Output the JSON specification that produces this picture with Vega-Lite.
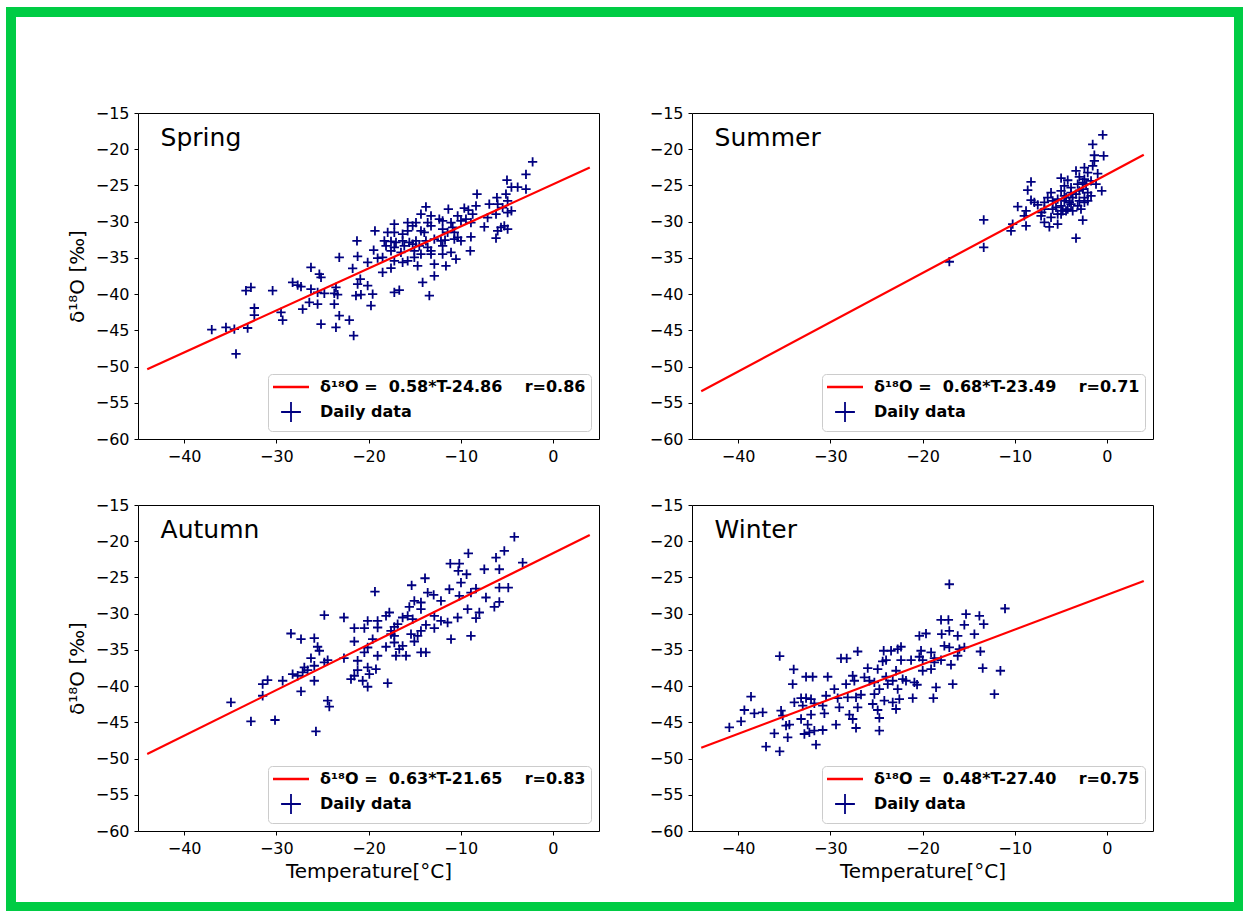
{
"$schema": "https://vega.github.io/schema/vega-lite/v6.json",
"padding": {"left": 5, "top": 6, "right": 0, "bottom": 0},
"background": "white",
"columns": 2,
"bounds": "flush",
"spacing": {"row": 66, "column": 93},
"resolve": {"scale": {"color": "independent"}, "legend": {"color": "independent"}},
"datasets": {
"fit": [
{"s":"Spring","T":-44,"d":-50.38},{"s":"Spring","T":4,"d":-22.54},
{"s":"Summer","T":-44,"d":-53.41},{"s":"Summer","T":4,"d":-20.77},
{"s":"Autumn","T":-44,"d":-49.37},{"s":"Autumn","T":4,"d":-19.13},
{"s":"Winter","T":-44,"d":-48.52},{"s":"Winter","T":4,"d":-25.48}
],
"pts": [
{"s":"Spring","T":-2.20,"d":-21.76},{"s":"Spring","T":-2.92,"d":-23.46},{"s":"Spring","T":-4.98,"d":-24.26},{"s":"Spring","T":-4.5,"d":-25.24},{"s":"Spring","T":-3.82,"d":-25.24},{"s":"Spring","T":-2.92,"d":-25.52},{"s":"Spring","T":-8.23,"d":-26.21},{"s":"Spring","T":-6.07,"d":-26.67},{"s":"Spring","T":-5.09,"d":-26.21},{"s":"Spring","T":-4.91,"d":-27.13},{"s":"Spring","T":-4.5,"d":-28.51},{"s":"Spring","T":-4.91,"d":-28.74},{"s":"Spring","T":-6.90,"d":-27.59},{"s":"Spring","T":-5.99,"d":-27.59},{"s":"Spring","T":-5.45,"d":-28.05},{"s":"Spring","T":-13.77,"d":-27.96},{"s":"Spring","T":-11.34,"d":-28.28},{"s":"Spring","T":-9.61,"d":-28.14},{"s":"Spring","T":-9.17,"d":-28.42},{"s":"Spring","T":-8.34,"d":-27.82},{"s":"Spring","T":-8.70,"d":-28.97},{"s":"Spring","T":-14.31,"d":-28.97},{"s":"Spring","T":-13.22,"d":-29.20},{"s":"Spring","T":-12.32,"d":-29.66},{"s":"Spring","T":-11.96,"d":-29.89},{"s":"Spring","T":-10.33,"d":-29.20},{"s":"Spring","T":-9.43,"d":-29.66},{"s":"Spring","T":-9.97,"d":-29.89},{"s":"Spring","T":-17.20,"d":-30.35},{"s":"Spring","T":-15.75,"d":-30.12},{"s":"Spring","T":-14.85,"d":-30.12},{"s":"Spring","T":-15.21,"d":-30.58},{"s":"Spring","T":-13.58,"d":-30.12},{"s":"Spring","T":-13.22,"d":-30.58},{"s":"Spring","T":-11.05,"d":-30.12},{"s":"Spring","T":-10.87,"d":-30.80},{"s":"Spring","T":-8.89,"d":-30.12},{"s":"Spring","T":-7.44,"d":-30.71},{"s":"Spring","T":-7.08,"d":-29.43},{"s":"Spring","T":-6.17,"d":-28.97},{"s":"Spring","T":-5.63,"d":-30.80},{"s":"Spring","T":-4.91,"d":-31.03},{"s":"Spring","T":-5.27,"d":-30.58},{"s":"Spring","T":-19.30,"d":-31.26},{"s":"Spring","T":-17.92,"d":-31.49},{"s":"Spring","T":-17.20,"d":-31.49},{"s":"Spring","T":-16.30,"d":-31.72},{"s":"Spring","T":-15.75,"d":-31.26},{"s":"Spring","T":-14.31,"d":-31.26},{"s":"Spring","T":-13.95,"d":-31.49},{"s":"Spring","T":-11.96,"d":-31.03},{"s":"Spring","T":-11.42,"d":-31.49},{"s":"Spring","T":-10.69,"d":-31.49},{"s":"Spring","T":-10.33,"d":-32.18},{"s":"Spring","T":-9.97,"d":-32.64},{"s":"Spring","T":-8.89,"d":-32.09},{"s":"Spring","T":-6.17,"d":-32.27},{"s":"Spring","T":-5.99,"d":-31.26},{"s":"Spring","T":-21.25,"d":-32.64},{"s":"Spring","T":-18.28,"d":-32.64},{"s":"Spring","T":-17.56,"d":-32.73},{"s":"Spring","T":-17.02,"d":-32.87},{"s":"Spring","T":-16.30,"d":-32.64},{"s":"Spring","T":-15.57,"d":-32.87},{"s":"Spring","T":-14.85,"d":-32.64},{"s":"Spring","T":-13.77,"d":-32.64},{"s":"Spring","T":-12.86,"d":-32.41},{"s":"Spring","T":-12.14,"d":-32.64},{"s":"Spring","T":-11.70,"d":-32.55},{"s":"Spring","T":-10.69,"d":-32.41},{"s":"Spring","T":-18.10,"d":-33.33},{"s":"Spring","T":-17.20,"d":-33.56},{"s":"Spring","T":-16.12,"d":-33.33},{"s":"Spring","T":-15.21,"d":-33.10},{"s":"Spring","T":-14.49,"d":-33.33},{"s":"Spring","T":-13.58,"d":-33.56},{"s":"Spring","T":-13.22,"d":-34.02},{"s":"Spring","T":-11.96,"d":-33.33},{"s":"Spring","T":-19.44,"d":-33.93},{"s":"Spring","T":-17.56,"d":-34.02},{"s":"Spring","T":-16.48,"d":-34.25},{"s":"Spring","T":-15.03,"d":-34.02},{"s":"Spring","T":-14.31,"d":-34.48},{"s":"Spring","T":-13.22,"d":-34.48},{"s":"Spring","T":-11.96,"d":-34.48},{"s":"Spring","T":-11.05,"d":-34.25},{"s":"Spring","T":-10.51,"d":-35.17},{"s":"Spring","T":-8.96,"d":-34.02},{"s":"Spring","T":-23.17,"d":-34.94},{"s":"Spring","T":-21.18,"d":-34.80},{"s":"Spring","T":-20.09,"d":-35.63},{"s":"Spring","T":-19.01,"d":-35.03},{"s":"Spring","T":-18.47,"d":-34.94},{"s":"Spring","T":-17.20,"d":-35.40},{"s":"Spring","T":-16.30,"d":-35.63},{"s":"Spring","T":-15.75,"d":-35.40},{"s":"Spring","T":-14.67,"d":-36.09},{"s":"Spring","T":-12.86,"d":-35.86},{"s":"Spring","T":-11.60,"d":-36.09},{"s":"Spring","T":-26.24,"d":-36.32},{"s":"Spring","T":-21.72,"d":-36.45},{"s":"Spring","T":-18.47,"d":-37.01},{"s":"Spring","T":-17.56,"d":-36.41},{"s":"Spring","T":-12.86,"d":-37.47},{"s":"Spring","T":-15.03,"d":-34.94},{"s":"Spring","T":-25.33,"d":-37.24},{"s":"Spring","T":-25.15,"d":-37.70},{"s":"Spring","T":-20.89,"d":-37.93},{"s":"Spring","T":-21.18,"d":-38.61},{"s":"Spring","T":-20.09,"d":-38.84},{"s":"Spring","T":-14.13,"d":-38.38},{"s":"Spring","T":-28.23,"d":-38.38},{"s":"Spring","T":-27.68,"d":-38.75},{"s":"Spring","T":-27.32,"d":-38.98},{"s":"Spring","T":-33.29,"d":-39.53},{"s":"Spring","T":-32.75,"d":-39.07},{"s":"Spring","T":-30.40,"d":-39.53},{"s":"Spring","T":-26.24,"d":-39.30},{"s":"Spring","T":-25.52,"d":-39.76},{"s":"Spring","T":-24.79,"d":-39.90},{"s":"Spring","T":-23.71,"d":-39.90},{"s":"Spring","T":-23.35,"d":-40.08},{"s":"Spring","T":-23.53,"d":-39.07},{"s":"Spring","T":-21.36,"d":-40.22},{"s":"Spring","T":-20.82,"d":-40.08},{"s":"Spring","T":-19.55,"d":-39.99},{"s":"Spring","T":-17.20,"d":-39.76},{"s":"Spring","T":-16.66,"d":-39.44},{"s":"Spring","T":-13.40,"d":-40.22},{"s":"Spring","T":-26.42,"d":-41.14},{"s":"Spring","T":-25.52,"d":-41.37},{"s":"Spring","T":-27.14,"d":-42.06},{"s":"Spring","T":-23.71,"d":-41.37},{"s":"Spring","T":-19.73,"d":-41.60},{"s":"Spring","T":-32.38,"d":-41.92},{"s":"Spring","T":-32.38,"d":-42.89},{"s":"Spring","T":-29.49,"d":-42.52},{"s":"Spring","T":-29.31,"d":-43.58},{"s":"Spring","T":-23.17,"d":-42.98},{"s":"Spring","T":-22.08,"d":-43.58},{"s":"Spring","T":-35.46,"d":-44.59},{"s":"Spring","T":-34.55,"d":-44.82},{"s":"Spring","T":-33.11,"d":-44.68},{"s":"Spring","T":-25.15,"d":-44.13},{"s":"Spring","T":-23.53,"d":-44.59},{"s":"Spring","T":-21.61,"d":-45.73},{"s":"Spring","T":-34.37,"d":-48.26},{"s":"Spring","T":-37.0,"d":-44.9},
{"s":"Summer","T":-0.45,"d":-18.03},{"s":"Summer","T":-1.54,"d":-19.32},{"s":"Summer","T":-0.35,"d":-20.92},{"s":"Summer","T":-1.36,"d":-20.83},{"s":"Summer","T":-1.36,"d":-21.61},{"s":"Summer","T":-1.54,"d":-22.30},{"s":"Summer","T":-2.44,"d":-22.53},{"s":"Summer","T":-3.35,"d":-22.99},{"s":"Summer","T":-2.08,"d":-23.22},{"s":"Summer","T":-1.00,"d":-23.36},{"s":"Summer","T":-4.97,"d":-24.00},{"s":"Summer","T":-4.25,"d":-24.28},{"s":"Summer","T":-2.99,"d":-23.82},{"s":"Summer","T":-2.44,"d":-24.14},{"s":"Summer","T":-1.72,"d":-24.37},{"s":"Summer","T":-8.23,"d":-24.51},{"s":"Summer","T":-8.59,"d":-25.65},{"s":"Summer","T":-6.06,"d":-25.98},{"s":"Summer","T":-4.61,"d":-25.06},{"s":"Summer","T":-3.89,"d":-25.29},{"s":"Summer","T":-3.17,"d":-24.83},{"s":"Summer","T":-2.62,"d":-25.52},{"s":"Summer","T":-2.08,"d":-25.98},{"s":"Summer","T":-0.56,"d":-25.75},{"s":"Summer","T":-8.23,"d":-27.03},{"s":"Summer","T":-7.87,"d":-27.35},{"s":"Summer","T":-9.67,"d":-27.91},{"s":"Summer","T":-6.42,"d":-26.67},{"s":"Summer","T":-5.88,"d":-27.12},{"s":"Summer","T":-5.34,"d":-26.89},{"s":"Summer","T":-4.61,"d":-26.44},{"s":"Summer","T":-3.71,"d":-26.67},{"s":"Summer","T":-2.99,"d":-27.12},{"s":"Summer","T":-2.44,"d":-26.67},{"s":"Summer","T":-1.72,"d":-26.44},{"s":"Summer","T":-8.77,"d":-28.50},{"s":"Summer","T":-6.78,"d":-28.27},{"s":"Summer","T":-5.88,"d":-28.27},{"s":"Summer","T":-4.97,"d":-27.81},{"s":"Summer","T":-4.43,"d":-28.50},{"s":"Summer","T":-3.89,"d":-27.58},{"s":"Summer","T":-3.17,"d":-27.81},{"s":"Summer","T":-2.44,"d":-27.35},{"s":"Summer","T":-2.08,"d":-27.12},{"s":"Summer","T":-10.22,"d":-30.34},{"s":"Summer","T":-10.40,"d":-31.26},{"s":"Summer","T":-8.77,"d":-30.57},{"s":"Summer","T":-7.14,"d":-29.19},{"s":"Summer","T":-6.78,"d":-30.11},{"s":"Summer","T":-6.06,"d":-29.42},{"s":"Summer","T":-5.34,"d":-28.96},{"s":"Summer","T":-4.79,"d":-28.50},{"s":"Summer","T":-4.25,"d":-28.27},{"s":"Summer","T":-6.24,"d":-30.71},{"s":"Summer","T":-5.34,"d":-30.34},{"s":"Summer","T":-2.62,"d":-29.79},{"s":"Summer","T":-3.35,"d":-32.27},{"s":"Summer","T":-13.36,"d":-29.74},{"s":"Summer","T":-13.36,"d":-33.56},{"s":"Summer","T":-17.09,"d":-35.53},{"s":"Summer","T":-7.50,"d":-27.68},{"s":"Summer","T":-7.07,"d":-28.73},{"s":"Summer","T":-5.52,"d":-28.04},{"s":"Summer","T":-4.97,"d":-28.96},{"s":"Summer","T":-3.35,"d":-26.21},{"s":"Summer","T":-4.61,"d":-27.12},{"s":"Summer","T":-4.07,"d":-27.35},{"s":"Summer","T":-2.81,"d":-28.27},{"s":"Summer","T":-3.71,"d":-28.50},{"s":"Summer","T":-2.62,"d":-24.60},{"s":"Summer","T":-2.26,"d":-24.83},{"s":"Summer","T":-1.18,"d":-24.83},{"s":"Summer","T":-3.89,"d":-25.98},{"s":"Summer","T":-2.99,"d":-25.75},{"s":"Summer","T":-4.97,"d":-25.75},{"s":"Summer","T":-4.43,"d":-26.67},{"s":"Summer","T":-6.78,"d":-27.35},{"s":"Summer","T":-8.96,"d":-29.19},
{"s":"Autumn","T":-4.18,"d":-19.41},{"s":"Autumn","T":-5.27,"d":-21.34},{"s":"Autumn","T":-6.17,"d":-22.26},{"s":"Autumn","T":-9.17,"d":-21.67},{"s":"Autumn","T":-3.28,"d":-22.95},{"s":"Autumn","T":-11.13,"d":-23.09},{"s":"Autumn","T":-10.15,"d":-23.09},{"s":"Autumn","T":-7.44,"d":-23.87},{"s":"Autumn","T":-5.81,"d":-23.87},{"s":"Autumn","T":-10.26,"d":-24.10},{"s":"Autumn","T":-9.36,"d":-24.56},{"s":"Autumn","T":-13.87,"d":-25.11},{"s":"Autumn","T":-15.32,"d":-26.08},{"s":"Autumn","T":-9.97,"d":-25.71},{"s":"Autumn","T":-19.30,"d":-26.95},{"s":"Autumn","T":-11.23,"d":-26.63},{"s":"Autumn","T":-8.34,"d":-26.53},{"s":"Autumn","T":-5.81,"d":-26.40},{"s":"Autumn","T":-4.84,"d":-26.40},{"s":"Autumn","T":-13.58,"d":-27.09},{"s":"Autumn","T":-12.93,"d":-27.41},{"s":"Autumn","T":-10.15,"d":-27.55},{"s":"Autumn","T":-8.89,"d":-27.09},{"s":"Autumn","T":-7.26,"d":-27.77},{"s":"Autumn","T":-5.81,"d":-28.37},{"s":"Autumn","T":-6.35,"d":-29.06},{"s":"Autumn","T":-15.03,"d":-28.23},{"s":"Autumn","T":-14.31,"d":-28.46},{"s":"Autumn","T":-12.14,"d":-28.23},{"s":"Autumn","T":-15.57,"d":-29.06},{"s":"Autumn","T":-14.31,"d":-29.38},{"s":"Autumn","T":-9.25,"d":-29.38},{"s":"Autumn","T":-7.98,"d":-29.84},{"s":"Autumn","T":-10.33,"d":-30.53},{"s":"Autumn","T":-8.34,"d":-30.62},{"s":"Autumn","T":-24.79,"d":-30.21},{"s":"Autumn","T":-22.66,"d":-30.53},{"s":"Autumn","T":-18.10,"d":-30.30},{"s":"Autumn","T":-17.74,"d":-29.84},{"s":"Autumn","T":-16.30,"d":-30.53},{"s":"Autumn","T":-15.75,"d":-30.30},{"s":"Autumn","T":-15.21,"d":-30.76},{"s":"Autumn","T":-12.86,"d":-30.30},{"s":"Autumn","T":-12.14,"d":-30.99},{"s":"Autumn","T":-11.42,"d":-31.22},{"s":"Autumn","T":-20.09,"d":-30.99},{"s":"Autumn","T":-19.01,"d":-30.99},{"s":"Autumn","T":-21.54,"d":-32.00},{"s":"Autumn","T":-20.45,"d":-32.00},{"s":"Autumn","T":-19.01,"d":-31.91},{"s":"Autumn","T":-17.20,"d":-31.82},{"s":"Autumn","T":-16.84,"d":-31.45},{"s":"Autumn","T":-13.77,"d":-31.54},{"s":"Autumn","T":-12.86,"d":-32.00},{"s":"Autumn","T":-14.31,"d":-32.37},{"s":"Autumn","T":-28.41,"d":-32.74},{"s":"Autumn","T":-27.32,"d":-33.52},{"s":"Autumn","T":-25.88,"d":-33.38},{"s":"Autumn","T":-21.54,"d":-33.84},{"s":"Autumn","T":-19.55,"d":-33.52},{"s":"Autumn","T":-17.56,"d":-32.83},{"s":"Autumn","T":-15.39,"d":-32.83},{"s":"Autumn","T":-14.67,"d":-33.06},{"s":"Autumn","T":-11.05,"d":-33.52},{"s":"Autumn","T":-8.89,"d":-33.06},{"s":"Autumn","T":-25.52,"d":-34.57},{"s":"Autumn","T":-25.33,"d":-35.12},{"s":"Autumn","T":-20.09,"d":-34.67},{"s":"Autumn","T":-18.10,"d":-34.57},{"s":"Autumn","T":-17.20,"d":-33.98},{"s":"Autumn","T":-16.30,"d":-34.44},{"s":"Autumn","T":-15.03,"d":-33.84},{"s":"Autumn","T":-16.66,"d":-34.90},{"s":"Autumn","T":-26.24,"d":-36.14},{"s":"Autumn","T":-24.43,"d":-36.41},{"s":"Autumn","T":-22.66,"d":-36.14},{"s":"Autumn","T":-21.18,"d":-36.50},{"s":"Autumn","T":-20.45,"d":-35.35},{"s":"Autumn","T":-19.01,"d":-35.81},{"s":"Autumn","T":-17.02,"d":-35.81},{"s":"Autumn","T":-15.93,"d":-35.81},{"s":"Autumn","T":-14.31,"d":-35.35},{"s":"Autumn","T":-13.77,"d":-35.35},{"s":"Autumn","T":-26.96,"d":-37.42},{"s":"Autumn","T":-26.60,"d":-37.79},{"s":"Autumn","T":-25.88,"d":-37.19},{"s":"Autumn","T":-24.79,"d":-36.73},{"s":"Autumn","T":-21.18,"d":-37.79},{"s":"Autumn","T":-20.09,"d":-37.42},{"s":"Autumn","T":-19.19,"d":-37.65},{"s":"Autumn","T":-28.23,"d":-38.34},{"s":"Autumn","T":-27.68,"d":-38.57},{"s":"Autumn","T":-27.14,"d":-38.11},{"s":"Autumn","T":-31.48,"d":-39.72},{"s":"Autumn","T":-30.94,"d":-39.17},{"s":"Autumn","T":-29.31,"d":-39.26},{"s":"Autumn","T":-25.88,"d":-39.26},{"s":"Autumn","T":-21.90,"d":-39.03},{"s":"Autumn","T":-21.54,"d":-38.57},{"s":"Autumn","T":-20.63,"d":-39.26},{"s":"Autumn","T":-20.09,"d":-40.09},{"s":"Autumn","T":-19.91,"d":-38.34},{"s":"Autumn","T":-17.92,"d":-39.58},{"s":"Autumn","T":-31.48,"d":-41.33},{"s":"Autumn","T":-27.32,"d":-40.73},{"s":"Autumn","T":-34.92,"d":-42.24},{"s":"Autumn","T":-24.43,"d":-42.01},{"s":"Autumn","T":-24.25,"d":-42.84},{"s":"Autumn","T":-32.75,"d":-44.86},{"s":"Autumn","T":-30.14,"d":-44.68},{"s":"Autumn","T":-25.70,"d":-46.24},{"s":"Autumn","T":-17.56,"d":-32.37},{"s":"Autumn","T":-17.20,"d":-33.06},
{"s":"Winter","T":-17.09,"d":-25.94},{"s":"Winter","T":-11.05,"d":-29.29},{"s":"Winter","T":-15.28,"d":-30.07},{"s":"Winter","T":-13.83,"d":-30.30},{"s":"Winter","T":-17.99,"d":-30.85},{"s":"Winter","T":-17.19,"d":-30.85},{"s":"Winter","T":-15.46,"d":-31.54},{"s":"Winter","T":-13.36,"d":-31.45},{"s":"Winter","T":-20.34,"d":-33.06},{"s":"Winter","T":-19.62,"d":-32.74},{"s":"Winter","T":-17.92,"d":-32.83},{"s":"Winter","T":-17.09,"d":-32.37},{"s":"Winter","T":-16.18,"d":-33.06},{"s":"Winter","T":-14.37,"d":-32.83},{"s":"Winter","T":-22.33,"d":-34.57},{"s":"Winter","T":-22.69,"d":-34.89},{"s":"Winter","T":-20.16,"d":-35.12},{"s":"Winter","T":-19.07,"d":-35.35},{"s":"Winter","T":-17.63,"d":-34.44},{"s":"Winter","T":-17.09,"d":-34.66},{"s":"Winter","T":-16.00,"d":-34.89},{"s":"Winter","T":-15.46,"d":-34.66},{"s":"Winter","T":-13.72,"d":-35.22},{"s":"Winter","T":-35.49,"d":-35.86},{"s":"Winter","T":-28.84,"d":-36.18},{"s":"Winter","T":-28.22,"d":-36.18},{"s":"Winter","T":-27.03,"d":-35.22},{"s":"Winter","T":-24.21,"d":-35.12},{"s":"Winter","T":-23.41,"d":-35.12},{"s":"Winter","T":-23.95,"d":-36.41},{"s":"Winter","T":-24.32,"d":-36.59},{"s":"Winter","T":-22.33,"d":-36.41},{"s":"Winter","T":-21.24,"d":-36.41},{"s":"Winter","T":-20.34,"d":-35.95},{"s":"Winter","T":-19.98,"d":-36.41},{"s":"Winter","T":-18.71,"d":-36.13},{"s":"Winter","T":-17.99,"d":-36.41},{"s":"Winter","T":-16.18,"d":-35.81},{"s":"Winter","T":-16.91,"d":-37.05},{"s":"Winter","T":-13.47,"d":-37.51},{"s":"Winter","T":-11.55,"d":-37.88},{"s":"Winter","T":-33.97,"d":-37.70},{"s":"Winter","T":-32.63,"d":-38.71},{"s":"Winter","T":-31.91,"d":-38.71},{"s":"Winter","T":-30.28,"d":-38.71},{"s":"Winter","T":-27.57,"d":-38.57},{"s":"Winter","T":-25.94,"d":-37.51},{"s":"Winter","T":-24.86,"d":-37.65},{"s":"Winter","T":-23.95,"d":-38.71},{"s":"Winter","T":-22.87,"d":-37.88},{"s":"Winter","T":-22.15,"d":-39.03},{"s":"Winter","T":-20.88,"d":-39.49},{"s":"Winter","T":-20.59,"d":-39.81},{"s":"Winter","T":-19.98,"d":-37.88},{"s":"Winter","T":-19.07,"d":-37.65},{"s":"Winter","T":-18.71,"d":-36.73},{"s":"Winter","T":-34.08,"d":-39.72},{"s":"Winter","T":-29.56,"d":-40.41},{"s":"Winter","T":-28.29,"d":-39.72},{"s":"Winter","T":-27.39,"d":-39.26},{"s":"Winter","T":-26.30,"d":-38.80},{"s":"Winter","T":-25.76,"d":-39.26},{"s":"Winter","T":-25.22,"d":-39.49},{"s":"Winter","T":-24.68,"d":-40.41},{"s":"Winter","T":-23.77,"d":-39.72},{"s":"Winter","T":-23.23,"d":-39.26},{"s":"Winter","T":-22.69,"d":-40.41},{"s":"Winter","T":-21.79,"d":-39.26},{"s":"Winter","T":-16.72,"d":-39.72},{"s":"Winter","T":-18.53,"d":-40.18},{"s":"Winter","T":-38.60,"d":-41.46},{"s":"Winter","T":-33.17,"d":-41.65},{"s":"Winter","T":-32.63,"d":-41.65},{"s":"Winter","T":-32.09,"d":-41.79},{"s":"Winter","T":-30.46,"d":-41.33},{"s":"Winter","T":-29.20,"d":-41.65},{"s":"Winter","T":-28.11,"d":-41.56},{"s":"Winter","T":-27.21,"d":-41.56},{"s":"Winter","T":-26.67,"d":-41.19},{"s":"Winter","T":-25.22,"d":-41.10},{"s":"Winter","T":-24.14,"d":-42.01},{"s":"Winter","T":-23.23,"d":-42.24},{"s":"Winter","T":-22.51,"d":-41.79},{"s":"Winter","T":-21.06,"d":-41.65},{"s":"Winter","T":-18.82,"d":-41.65},{"s":"Winter","T":-12.20,"d":-41.10},{"s":"Winter","T":-39.32,"d":-43.30},{"s":"Winter","T":-38.24,"d":-43.76},{"s":"Winter","T":-37.33,"d":-43.62},{"s":"Winter","T":-35.34,"d":-43.39},{"s":"Winter","T":-33.90,"d":-42.24},{"s":"Winter","T":-32.99,"d":-42.70},{"s":"Winter","T":-31.73,"d":-42.38},{"s":"Winter","T":-30.82,"d":-42.70},{"s":"Winter","T":-30.64,"d":-43.76},{"s":"Winter","T":-29.02,"d":-42.93},{"s":"Winter","T":-27.93,"d":-43.94},{"s":"Winter","T":-27.03,"d":-42.93},{"s":"Winter","T":-25.40,"d":-42.47},{"s":"Winter","T":-24.86,"d":-43.30},{"s":"Winter","T":-22.87,"d":-43.16},{"s":"Winter","T":-39.68,"d":-44.86},{"s":"Winter","T":-40.95,"d":-45.69},{"s":"Winter","T":-35.16,"d":-44.08},{"s":"Winter","T":-34.80,"d":-45.46},{"s":"Winter","T":-34.44,"d":-45.32},{"s":"Winter","T":-33.17,"d":-44.54},{"s":"Winter","T":-32.09,"d":-43.94},{"s":"Winter","T":-32.45,"d":-45.32},{"s":"Winter","T":-31.73,"d":-46.15},{"s":"Winter","T":-30.82,"d":-46.06},{"s":"Winter","T":-29.38,"d":-45.32},{"s":"Winter","T":-27.21,"d":-45.78},{"s":"Winter","T":-24.68,"d":-44.40},{"s":"Winter","T":-24.68,"d":-46.15},{"s":"Winter","T":-27.57,"d":-44.54},{"s":"Winter","T":-36.07,"d":-46.52},{"s":"Winter","T":-34.62,"d":-47.07},{"s":"Winter","T":-31.55,"d":-48.08},{"s":"Winter","T":-36.97,"d":-48.35},{"s":"Winter","T":-35.49,"d":-49.00},{"s":"Winter","T":-32.81,"d":-46.61},{"s":"Winter","T":-32.27,"d":-46.38}
]
},
"concat": [
{
"width": 461, "height": 326,
"layer": [
{"data": {"values": [{}]},
 "mark": {"type": "rect", "filled": false, "color": "#00cc44", "strokeWidth": 10, "clip": false},
 "encoding": {
  "x": {"datum": -58.774, "type": "quantitative", "scale": {"domain": [-45, 5], "nice": false, "zero": false}, "axis": {"values": [-40, -30, -20, -10, 0], "title": null}},
  "x2": {"datum": 74.414},
  "y": {"datum": -1.058, "type": "quantitative", "scale": {"domain": [-60, -15], "nice": false, "zero": false}, "axis": {"values": [-60, -55, -50, -45, -40, -35, -30, -25, -20, -15], "title": "δ¹⁸O [‰]"}},
  "y2": {"datum": -124.6}
 }},
{"data": {"values": [{}]},
 "mark": {"type": "text", "align": "left", "baseline": "alphabetic", "fontSize": 25, "font": "DejaVu Sans", "color": "black"},
 "encoding": {
  "x": {"datum": -42.55, "type": "quantitative", "scale": {"domain": [-45, 5], "nice": false, "zero": false}, "axis": {"values": [-40, -30, -20, -10, 0], "title": null}},
  "y": {"datum": -19.49, "type": "quantitative", "scale": {"domain": [-60, -15], "nice": false, "zero": false}, "axis": {"values": [-60, -55, -50, -45, -40, -35, -30, -25, -20, -15], "title": "δ¹⁸O [‰]"}},
  "text": {"value": "Spring"}
 }},
{"data": {"name": "pts"}, "transform": [{"filter": "datum.s === 'Spring'"}],
 "mark": {"type": "point", "shape": "M-1,0H1M0,-1V1", "size": 86, "filled": false, "strokeWidth": 1.8, "opacity": 1},
 "encoding": {
  "x": {"field": "T", "type": "quantitative", "scale": {"domain": [-45, 5], "nice": false, "zero": false}, "axis": {"values": [-40, -30, -20, -10, 0], "title": null}},
  "y": {"field": "d", "type": "quantitative", "scale": {"domain": [-60, -15], "nice": false, "zero": false}, "axis": {"values": [-60, -55, -50, -45, -40, -35, -30, -25, -20, -15], "title": "δ¹⁸O [‰]"}},
  "color": {"datum": "Daily data", "type": "nominal"}
 }},
{"data": {"name": "fit"}, "transform": [{"filter": "datum.s === 'Spring'"}],
 "mark": {"type": "line", "strokeWidth": 2.2},
 "encoding": {
  "x": {"field": "T", "type": "quantitative", "scale": {"domain": [-45, 5], "nice": false, "zero": false}, "axis": {"values": [-40, -30, -20, -10, 0], "title": null}},
  "y": {"field": "d", "type": "quantitative", "scale": {"domain": [-60, -15], "nice": false, "zero": false}, "axis": {"values": [-60, -55, -50, -45, -40, -35, -30, -25, -20, -15], "title": "δ¹⁸O [‰]"}},
  "color": {"datum": "δ¹⁸O\u00a0=\u00a0\u00a00.58*T-24.86\u00a0\u00a0\u00a0\u00a0r=0.86", "type": "nominal",
   "scale": {"domain": ["δ¹⁸O\u00a0=\u00a0\u00a00.58*T-24.86\u00a0\u00a0\u00a0\u00a0r=0.86", "Daily data"], "range": ["#ff0000", "#000080"]},
   "legend": {"encode": {"symbols": {"update": {"shape": {"signal": "datum.value === 'Daily data' ? 'M-1.1,0H1.1M0,-1.1V1.1' : 'M-2,0H2'"}, "stroke": {"signal": "datum.value === 'Daily data' ? '#000080' : '#ff0000'"}, "strokeWidth": {"signal": "datum.value === 'Daily data' ? 1.8 : 2.5"}, "fill": {"value": "transparent"}, "opacity": {"value": 1}, "size": {"value": 324}}}}}}
 }}
]
},
{
"width": 461, "height": 326,
"layer": [
{"data": {"values": [{}]},
 "mark": {"type": "text", "align": "left", "baseline": "alphabetic", "fontSize": 25, "font": "DejaVu Sans", "color": "black"},
 "encoding": {
  "x": {"datum": -42.55, "type": "quantitative", "scale": {"domain": [-45, 5], "nice": false, "zero": false}, "axis": {"values": [-40, -30, -20, -10, 0], "title": null}},
  "y": {"datum": -19.49, "type": "quantitative", "scale": {"domain": [-60, -15], "nice": false, "zero": false}, "axis": {"values": [-60, -55, -50, -45, -40, -35, -30, -25, -20, -15], "title": null}},
  "text": {"value": "Summer"}
 }},
{"data": {"name": "pts"}, "transform": [{"filter": "datum.s === 'Summer'"}],
 "mark": {"type": "point", "shape": "M-1,0H1M0,-1V1", "size": 86, "filled": false, "strokeWidth": 1.8, "opacity": 1},
 "encoding": {
  "x": {"field": "T", "type": "quantitative", "scale": {"domain": [-45, 5], "nice": false, "zero": false}, "axis": {"values": [-40, -30, -20, -10, 0], "title": null}},
  "y": {"field": "d", "type": "quantitative", "scale": {"domain": [-60, -15], "nice": false, "zero": false}, "axis": {"values": [-60, -55, -50, -45, -40, -35, -30, -25, -20, -15], "title": null}},
  "color": {"datum": "Daily data", "type": "nominal"}
 }},
{"data": {"name": "fit"}, "transform": [{"filter": "datum.s === 'Summer'"}],
 "mark": {"type": "line", "strokeWidth": 2.2},
 "encoding": {
  "x": {"field": "T", "type": "quantitative", "scale": {"domain": [-45, 5], "nice": false, "zero": false}, "axis": {"values": [-40, -30, -20, -10, 0], "title": null}},
  "y": {"field": "d", "type": "quantitative", "scale": {"domain": [-60, -15], "nice": false, "zero": false}, "axis": {"values": [-60, -55, -50, -45, -40, -35, -30, -25, -20, -15], "title": null}},
  "color": {"datum": "δ¹⁸O\u00a0=\u00a0\u00a00.68*T-23.49\u00a0\u00a0\u00a0\u00a0r=0.71", "type": "nominal",
   "scale": {"domain": ["δ¹⁸O\u00a0=\u00a0\u00a00.68*T-23.49\u00a0\u00a0\u00a0\u00a0r=0.71", "Daily data"], "range": ["#ff0000", "#000080"]},
   "legend": {"encode": {"symbols": {"update": {"shape": {"signal": "datum.value === 'Daily data' ? 'M-1.1,0H1.1M0,-1.1V1.1' : 'M-2,0H2'"}, "stroke": {"signal": "datum.value === 'Daily data' ? '#000080' : '#ff0000'"}, "strokeWidth": {"signal": "datum.value === 'Daily data' ? 1.8 : 2.5"}, "fill": {"value": "transparent"}, "opacity": {"value": 1}, "size": {"value": 324}}}}}}
 }}
]
},
{
"width": 461, "height": 326,
"layer": [
{"data": {"values": [{}]},
 "mark": {"type": "text", "align": "left", "baseline": "alphabetic", "fontSize": 25, "font": "DejaVu Sans", "color": "black"},
 "encoding": {
  "x": {"datum": -42.55, "type": "quantitative", "scale": {"domain": [-45, 5], "nice": false, "zero": false}, "axis": {"values": [-40, -30, -20, -10, 0], "title": "Temperature[°C]"}},
  "y": {"datum": -19.49, "type": "quantitative", "scale": {"domain": [-60, -15], "nice": false, "zero": false}, "axis": {"values": [-60, -55, -50, -45, -40, -35, -30, -25, -20, -15], "title": "δ¹⁸O [‰]"}},
  "text": {"value": "Autumn"}
 }},
{"data": {"name": "pts"}, "transform": [{"filter": "datum.s === 'Autumn'"}],
 "mark": {"type": "point", "shape": "M-1,0H1M0,-1V1", "size": 86, "filled": false, "strokeWidth": 1.8, "opacity": 1},
 "encoding": {
  "x": {"field": "T", "type": "quantitative", "scale": {"domain": [-45, 5], "nice": false, "zero": false}, "axis": {"values": [-40, -30, -20, -10, 0], "title": "Temperature[°C]"}},
  "y": {"field": "d", "type": "quantitative", "scale": {"domain": [-60, -15], "nice": false, "zero": false}, "axis": {"values": [-60, -55, -50, -45, -40, -35, -30, -25, -20, -15], "title": "δ¹⁸O [‰]"}},
  "color": {"datum": "Daily data", "type": "nominal"}
 }},
{"data": {"name": "fit"}, "transform": [{"filter": "datum.s === 'Autumn'"}],
 "mark": {"type": "line", "strokeWidth": 2.2},
 "encoding": {
  "x": {"field": "T", "type": "quantitative", "scale": {"domain": [-45, 5], "nice": false, "zero": false}, "axis": {"values": [-40, -30, -20, -10, 0], "title": "Temperature[°C]"}},
  "y": {"field": "d", "type": "quantitative", "scale": {"domain": [-60, -15], "nice": false, "zero": false}, "axis": {"values": [-60, -55, -50, -45, -40, -35, -30, -25, -20, -15], "title": "δ¹⁸O [‰]"}},
  "color": {"datum": "δ¹⁸O\u00a0=\u00a0\u00a00.63*T-21.65\u00a0\u00a0\u00a0\u00a0r=0.83", "type": "nominal",
   "scale": {"domain": ["δ¹⁸O\u00a0=\u00a0\u00a00.63*T-21.65\u00a0\u00a0\u00a0\u00a0r=0.83", "Daily data"], "range": ["#ff0000", "#000080"]},
   "legend": {"encode": {"symbols": {"update": {"shape": {"signal": "datum.value === 'Daily data' ? 'M-1.1,0H1.1M0,-1.1V1.1' : 'M-2,0H2'"}, "stroke": {"signal": "datum.value === 'Daily data' ? '#000080' : '#ff0000'"}, "strokeWidth": {"signal": "datum.value === 'Daily data' ? 1.8 : 2.5"}, "fill": {"value": "transparent"}, "opacity": {"value": 1}, "size": {"value": 324}}}}}}
 }}
]
},
{
"width": 461, "height": 326,
"layer": [
{"data": {"values": [{}]},
 "mark": {"type": "text", "align": "left", "baseline": "alphabetic", "fontSize": 25, "font": "DejaVu Sans", "color": "black"},
 "encoding": {
  "x": {"datum": -42.55, "type": "quantitative", "scale": {"domain": [-45, 5], "nice": false, "zero": false}, "axis": {"values": [-40, -30, -20, -10, 0], "title": "Temperature[°C]"}},
  "y": {"datum": -19.49, "type": "quantitative", "scale": {"domain": [-60, -15], "nice": false, "zero": false}, "axis": {"values": [-60, -55, -50, -45, -40, -35, -30, -25, -20, -15], "title": null}},
  "text": {"value": "Winter"}
 }},
{"data": {"name": "pts"}, "transform": [{"filter": "datum.s === 'Winter'"}],
 "mark": {"type": "point", "shape": "M-1,0H1M0,-1V1", "size": 86, "filled": false, "strokeWidth": 1.8, "opacity": 1},
 "encoding": {
  "x": {"field": "T", "type": "quantitative", "scale": {"domain": [-45, 5], "nice": false, "zero": false}, "axis": {"values": [-40, -30, -20, -10, 0], "title": "Temperature[°C]"}},
  "y": {"field": "d", "type": "quantitative", "scale": {"domain": [-60, -15], "nice": false, "zero": false}, "axis": {"values": [-60, -55, -50, -45, -40, -35, -30, -25, -20, -15], "title": null}},
  "color": {"datum": "Daily data", "type": "nominal"}
 }},
{"data": {"name": "fit"}, "transform": [{"filter": "datum.s === 'Winter'"}],
 "mark": {"type": "line", "strokeWidth": 2.2},
 "encoding": {
  "x": {"field": "T", "type": "quantitative", "scale": {"domain": [-45, 5], "nice": false, "zero": false}, "axis": {"values": [-40, -30, -20, -10, 0], "title": "Temperature[°C]"}},
  "y": {"field": "d", "type": "quantitative", "scale": {"domain": [-60, -15], "nice": false, "zero": false}, "axis": {"values": [-60, -55, -50, -45, -40, -35, -30, -25, -20, -15], "title": null}},
  "color": {"datum": "δ¹⁸O\u00a0=\u00a0\u00a00.48*T-27.40\u00a0\u00a0\u00a0\u00a0r=0.75", "type": "nominal",
   "scale": {"domain": ["δ¹⁸O\u00a0=\u00a0\u00a00.48*T-27.40\u00a0\u00a0\u00a0\u00a0r=0.75", "Daily data"], "range": ["#ff0000", "#000080"]},
   "legend": {"encode": {"symbols": {"update": {"shape": {"signal": "datum.value === 'Daily data' ? 'M-1.1,0H1.1M0,-1.1V1.1' : 'M-2,0H2'"}, "stroke": {"signal": "datum.value === 'Daily data' ? '#000080' : '#ff0000'"}, "strokeWidth": {"signal": "datum.value === 'Daily data' ? 1.8 : 2.5"}, "fill": {"value": "transparent"}, "opacity": {"value": 1}, "size": {"value": 324}}}}}}
 }}
]
}
],
"config": {
 "font": "DejaVu Sans",
 "view": {"stroke": "black", "strokeWidth": 1},
 "axis": {"domain": false, "grid": false, "ticks": true, "tickColor": "black", "tickSize": 4, "tickWidth": 1, "labelFont": "DejaVu Sans", "labelFontSize": 16, "labelColor": "black", "labelPadding": 5, "labelFlush": false, "labelOverlap": false, "labelBound": false, "titleFont": "DejaVu Sans", "titleFontSize": 20, "titleFontWeight": "normal", "titleColor": "black"},
 "axisX": {"titlePadding": 5},
 "axisY": {"titlePadding": 8},
 "legend": {"title": null, "orient": "bottom-right", "offset": 8, "padding": 5, "fillColor": "white", "strokeColor": "#cccccc", "cornerRadius": 4, "labelFont": "DejaVu Sans", "labelFontSize": 16, "labelFontWeight": "bold", "labelColor": "black", "labelLimit": 400, "symbolSize": 324, "symbolOffset": 10, "labelOffset": 21, "rowPadding": 3, "symbolOpacity": 1}
}
}
